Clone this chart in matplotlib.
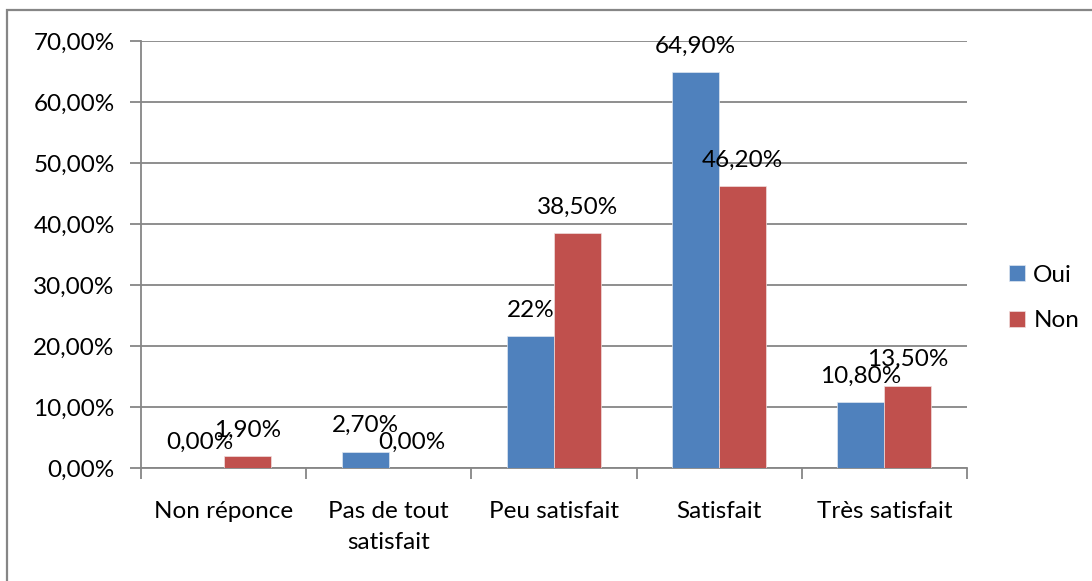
import matplotlib
matplotlib.use("Agg")
import matplotlib.pyplot as plt
from matplotlib.patches import Rectangle
import numpy as np

categories = ["Non réponce", "Pas de tout\nsatisfait", "Peu satisfait", "Satisfait", "Très satisfait"]
oui_values = [0.0, 2.7, 21.6, 64.9, 10.8]
non_values = [1.9, 0.0, 38.5, 46.2, 13.5]
oui_labels = ["0,00%", "2,70%", "22%", "64,90%", "10,80%"]
non_labels = ["1,90%", "0,00%", "38,50%", "46,20%", "13,50%"]
series_names = ["Oui", "Non"]
yticks = [0, 10, 20, 30, 40, 50, 60, 70]
ytick_labels = ["0,00%", "10,00%", "20,00%", "30,00%", "40,00%", "50,00%", "60,00%", "70,00%"]

plt.rcParams['font.family'] = ['Lato', 'DejaVu Sans']
FS = 17.5

W, H = 1092, 581
fig = plt.figure(figsize=(W / 100, H / 100), dpi=100)
fig.patch.set_facecolor('white')

# outer border
fig.add_artist(Rectangle((7 / W, -0.1), 1.2, 1 - 10 / H + 0.1, transform=fig.transFigure,
                         fill=False, edgecolor='#868686', linewidth=1.6))

ax = fig.add_axes([141 / W, 1 - 468 / H, (967 - 141) / W, (468 - 41) / H])
grid_c = '#868686'
x = np.arange(len(categories))
bw = 0.285
c_oui = '#4F81BD'
c_non = '#C0504D'
b1 = ax.bar(x - bw / 2, oui_values, bw, color=c_oui, edgecolor='#dfe6f0', linewidth=0.5, label=series_names[0], zorder=3)
b2 = ax.bar(x + bw / 2, non_values, bw, color=c_non, edgecolor='#f0dede', linewidth=0.5, label=series_names[1], zorder=3)

for xi, v, lab in zip(x - bw / 2, oui_values, oui_labels):
    ax.annotate(lab, (xi, v), xytext=(0, 14), textcoords='offset points', ha='center', va='baseline', fontsize=FS, zorder=5)
for xi, v, lab in zip(x + bw / 2, non_values, non_labels):
    ax.annotate(lab, (xi, v), xytext=(0, 14), textcoords='offset points', ha='center', va='baseline', fontsize=FS, zorder=5)

ax.set_xlim(-0.5, len(categories) - 0.5)
ax.set_ylim(0, 70)
ax.set_yticks(yticks)
ax.set_yticklabels(ytick_labels, fontsize=FS)
ax.yaxis.grid(True, color=grid_c, linewidth=1.3, zorder=0)
ax.set_axisbelow(True)
ax.set_xticks(np.arange(len(categories) + 1) - 0.5)
ax.set_xticklabels([])
ax.set_xticks(x, minor=True)
ax.set_xticklabels(categories, minor=True, fontsize=FS, linespacing=1.55)
ax.tick_params(axis='x', which='minor', length=0, pad=24)
ax.tick_params(axis='x', which='major', length=8, width=1.3, color=grid_c)
ax.tick_params(axis='y', length=8, width=1.3, color=grid_c, pad=11)
for s in ['top', 'right']:
    ax.spines[s].set_visible(False)
for s in ['left', 'bottom']:
    ax.spines[s].set_color(grid_c)
    ax.spines[s].set_linewidth(1.3)

leg = ax.legend(loc='center left', bbox_to_anchor=(1009 / W, 1 - 298 / H), bbox_transform=fig.transFigure,
                frameon=False, fontsize=FS, handlelength=0.65, handleheight=0.65, handletextpad=0.35,
                labelspacing=1.0, borderaxespad=0, borderpad=0)

fig.savefig('out.png', dpi=100, facecolor='white')
